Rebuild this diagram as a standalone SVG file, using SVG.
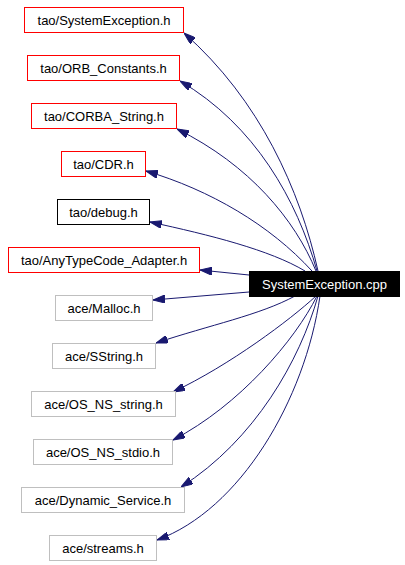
<svg xmlns="http://www.w3.org/2000/svg" width="405" height="565" viewBox="0 0 405 565">
<defs>
<style>
.n rect{fill:#ffffff;stroke-width:1}
.red rect{stroke:#ff0000}
.blk rect{stroke:#000000}
.gry rect{stroke:#bfbfbf}
.n text{font-family:"Liberation Sans",Arial,Helvetica,sans-serif;font-size:13px;text-anchor:middle;fill:#000000}
#main rect{fill:#000000;stroke:#000000}
#main text{fill:#ffffff}
#edges path{fill:none;stroke:#191970;stroke-width:1;marker-end:url(#ah)}
</style>
<marker id="ah" markerUnits="userSpaceOnUse" viewBox="0 0 12 8" refX="12" refY="4" markerWidth="12" markerHeight="8" orient="auto">
<path d="M0,0 L12,4 L0,8 z" fill="#191970" stroke="#191970"/>
</marker>
</defs>
<rect x="0" y="0" width="405" height="565" fill="#ffffff"/>
<g id="edges">
<path d="M318,271 C300,190 260,100 184,33"/>
<path d="M317,271 C297,200 255,125 180,81"/>
<path d="M316,271 C295,220 250,165 177,129"/>
<path d="M312,271 C270,225 210,190 146,171"/>
<path d="M305,271 C270,250 210,235 150,222"/>
<path d="M249,275 L200,270"/>
<path d="M249,292 L153,300"/>
<path d="M295,296 C260,315 210,325 156,343"/>
<path d="M316,296 C290,320 230,365 173,392"/>
<path d="M317,296 C295,340 240,405 173,440"/>
<path d="M318,296 C300,360 255,440 181,487"/>
<path d="M320,296 C305,400 240,510 157,540"/>
</g>
<g id="n1" class="n red"><rect x="24.5" y="7.5" width="159" height="25"/><text x="104" y="24.5">tao/SystemException.h</text></g>
<g id="n2" class="n red"><rect x="27.5" y="55.5" width="152" height="25"/><text x="103.5" y="72.5">tao/ORB_Constants.h</text></g>
<g id="n3" class="n red"><rect x="31.5" y="103.5" width="145" height="25"/><text x="104" y="120.5">tao/CORBA_String.h</text></g>
<g id="n4" class="n red"><rect x="61.5" y="151.5" width="84" height="25"/><text x="103.5" y="168.5">tao/CDR.h</text></g>
<g id="n5" class="n blk"><rect x="57.5" y="199.5" width="92" height="25"/><text x="103.5" y="216.5">tao/debug.h</text></g>
<g id="n6" class="n red"><rect x="8.5" y="247.5" width="191" height="25"/><text x="104" y="264.5">tao/AnyTypeCode_Adapter.h</text></g>
<g id="n7" class="n gry"><rect x="55.5" y="295.5" width="97" height="25"/><text x="104" y="312.5">ace/Malloc.h</text></g>
<g id="n8" class="n gry"><rect x="52.5" y="343.5" width="103" height="25"/><text x="104" y="360.5">ace/SString.h</text></g>
<g id="n9" class="n gry"><rect x="31.5" y="391.5" width="144" height="25"/><text x="103.5" y="408.5">ace/OS_NS_string.h</text></g>
<g id="n10" class="n gry"><rect x="33.5" y="439.5" width="139" height="25"/><text x="103" y="456.5">ace/OS_NS_stdio.h</text></g>
<g id="n11" class="n gry"><rect x="21.5" y="487.5" width="163" height="25"/><text x="103" y="504.5">ace/Dynamic_Service.h</text></g>
<g id="n12" class="n gry"><rect x="49.5" y="535.5" width="107" height="25"/><text x="103" y="552.5">ace/streams.h</text></g>
<g id="main" class="n"><rect x="249.5" y="271.5" width="150" height="25"/><text x="324.5" y="288.5">SystemException.cpp</text></g>
</svg>
